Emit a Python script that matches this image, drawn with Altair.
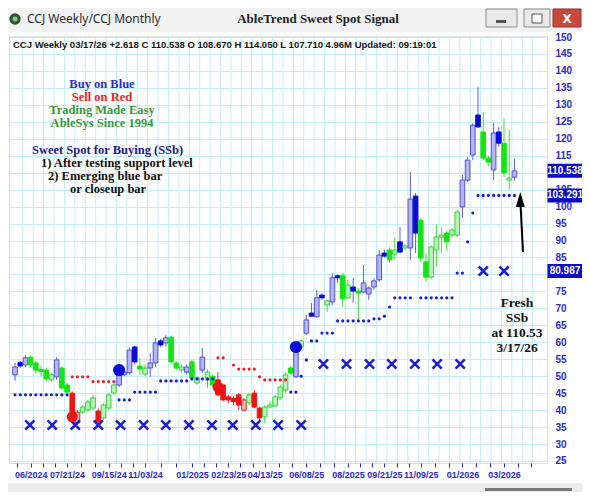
import altair as alt
import pandas as pd
import numpy as np

# ---------------- data ----------------
START = "2024-05-12"          # week index 0

opens = [50.4, 54.0, 53.3, 55.6, 53.9, 52.0, 51.8, 48.9, 49.8, 52.4,
         47.4, 45.0, 36.2, 39.4, 40.0, 40.6, 39.7, 37.7, 40.6, 45.0,
         47.4, 50.4, 51.0, 58.6, 53.0, 50.6, 52.4, 53.9, 60.4, 59.8,
         61.5, 53.9, 51.8, 51.2, 54.2, 48.0, 51.8, 48.9, 50.0, 48.9,
         47.4, 43.9, 43.5, 44.5, 40.0, 42.1, 45.0, 40.6, 38.0, 40.9,
         41.2, 43.6, 45.9, 52.4, 49.8, 58.6, 62.7, 68.6, 67.5, 73.9,
         71.0, 71.9, 79.6, 79.6, 73.1, 76.3, 75.1, 74.8, 74.2, 76.3,
         78.4, 86.3, 87.2, 86.0, 89.6, 87.8, 87.8, 103.1, 96.0, 83.7,
         79.2, 87.2, 91.0, 92.2, 91.6, 91.6, 99.9, 107.8, 115.2, 127.0,
         122.0, 114.3, 110.8, 122.0, 118.7, 107.8, 108.67]
highs = [53.9, 54.5, 56.3, 56.2, 54.5, 53.0, 52.5, 51.0, 55.5, 53.0,
         48.0, 45.5, 40.0, 41.5, 43.0, 44.5, 40.5, 42.0, 45.0, 48.0,
         52.0, 51.8, 58.5, 59.0, 55.4, 53.5, 56.8, 61.3, 61.0, 62.1,
         62.0, 54.5, 53.5, 53.5, 54.8, 50.0, 58.3, 52.0, 50.5, 51.2,
         47.8, 44.5, 44.0, 45.0, 43.5, 45.0, 45.9, 41.0, 41.5, 42.5,
         44.5, 47.5, 51.0, 53.0, 59.0, 61.0, 68.0, 71.6, 75.4, 74.5,
         72.5, 80.4, 80.0, 80.4, 78.4, 79.0, 76.0, 82.8, 76.5, 79.0,
         87.2, 87.2, 88.0, 91.0, 94.0, 89.0, 110.2, 104.0, 96.5, 86.3,
         88.5, 94.6, 94.0, 93.0, 93.7, 99.0, 109.3, 114.6, 124.6, 135.3,
         127.9, 115.0, 124.6, 123.5, 126.1, 122.6, 114.05]
lows = [48.6, 52.5, 52.7, 52.5, 50.8, 50.0, 48.5, 48.4, 48.9, 46.0,
        44.8, 37.5, 35.8, 38.8, 39.5, 40.0, 36.0, 37.0, 40.0, 44.5,
        46.8, 50.0, 50.5, 53.5, 50.4, 50.0, 49.8, 52.7, 58.5, 58.6,
        53.5, 51.8, 51.0, 50.5, 48.8, 47.5, 51.0, 46.5, 47.0, 44.0,
        42.5, 42.0, 41.5, 40.0, 39.5, 41.5, 40.5, 37.0, 36.2, 40.5,
        40.8, 43.0, 45.0, 50.5, 49.5, 58.0, 62.1, 67.5, 67.2, 72.5,
        68.9, 71.0, 77.5, 70.4, 72.8, 71.6, 66.6, 74.5, 72.5, 75.5,
        77.8, 85.0, 83.5, 84.3, 86.3, 87.2, 84.3, 86.3, 83.7, 77.8,
        78.5, 82.2, 86.3, 87.0, 90.8, 91.0, 96.6, 107.2, 113.7, 123.2,
        113.7, 112.0, 107.8, 117.6, 108.7, 104.9, 107.71]
closes = [52.7, 53.0, 55.4, 53.3, 51.8, 51.4, 49.2, 50.4, 54.8, 46.5,
          45.3, 38.0, 39.4, 40.9, 42.4, 43.6, 36.5, 41.5, 44.5, 47.4,
          51.0, 51.2, 57.7, 54.2, 52.1, 52.4, 53.9, 59.8, 59.2, 61.3,
          54.2, 52.4, 52.7, 52.7, 49.5, 49.5, 55.6, 51.2, 47.4, 44.5,
          43.0, 43.0, 42.5, 41.5, 43.0, 44.5, 40.9, 37.7, 40.9, 41.5,
          43.9, 46.8, 50.4, 50.9, 58.6, 60.4, 66.6, 67.7, 73.1, 73.1,
          72.2, 79.0, 79.0, 72.8, 76.9, 75.1, 74.5, 77.5, 76.0, 78.1,
          85.7, 85.4, 84.3, 87.2, 86.6, 88.4, 102.2, 92.2, 84.8, 79.2,
          88.1, 91.0, 91.6, 89.6, 93.1, 98.4, 107.8, 113.7, 124.0, 123.5,
          114.3, 113.1, 121.7, 118.7, 109.9, 108.4, 110.538]
trend = list("bbb" "ggggg" "b" "gg" "rr" "ggg" "r" "ggg" "bbbb" "gg" "bbbb" "ggg"
             "b" "gg" "b" "gg" "rrrrrr" "g" "rr" "gggggg" "b" "g" "bbbb" "g" "bb"
             "gg" "b" "g" "bbbbb" "gg" "b" "g" "bb" "gggggggg" "bbbb" "gg" "bb"
             "gg" "b")

N_ = None
support = ([44.5] * 11 + [N_] * 9 + [43.0] * 3 + [45.3] * 5 + [48.6] * 6 +
           [49.2] * 5 + [N_] * 14 + [45.3] * 2 + [50.0, 54.8] + [60.4] * 2 +
           [62.7] * 3 + [66.3] * 7 + [66.9] * 2 + [67.7, 70.4] + [73.1] * 4 +
           [N_] + [73.1] * 7 + [80.4] * 2 + [89.6, 98.1] + [103.291] * 8)
resist = ([N_] * 11 + [49.8] * 4 + [48.4] * 5 + [N_] * 19 + [55.4] * 2 + [N_] +
          [53.3] + [52.1] * 4 + [49.8] + [48.9] * 5 + [N_] * 44)

signal_idx = [11, 20, 39, 54]
signal_val = [38.0, 51.8, 46.8, 58.6]
signal_col = ["r", "b", "r", "b"]

month_dates = ["2024-06-01", "2024-07-01", "2024-08-01", "2024-09-01", "2024-10-01",
               "2024-11-01", "2024-12-01", "2025-01-01", "2025-02-01", "2025-03-01",
               "2025-04-01", "2025-05-01", "2025-06-01", "2025-07-01", "2025-08-01",
               "2025-09-01", "2025-10-01", "2025-11-01", "2025-12-01", "2026-01-01",
               "2026-02-01", "2026-03-01"]
month_levels = [35.6] * 13 + [53.6] * 7 + [80.987] * 2

tick_idx = [3, 10, 18, 25, 34, 41, 48, 56, 64, 71, 78, 86, 94]
tick_labels = ["06/2024", "07/21/24", "09/15/24", "11/03/24", "01/2025", "02/23/25",
               "04/13/25", "06/08/25", "08/2025", "09/21/25", "11/09/25", "01/2026",
               "03/2026"]
y_ticks = list(range(25, 151, 5))
y_hidden = [110, 80]          # covered by the value boxes in the reference

box_values = [110.538, 103.291, 80.987]
box_labels = ["110.538", "103.291", "80.987"]

header = "CCJ  Weekly 03/17/26 +2.618 C 110.538 O 108.670 H 114.050 L 107.710 4.96M Updated: 09:19:01"
legend_lines = ["Buy on Blue", "Sell on Red", "Trading Made Easy", "AbleSys Since 1994"]
ssb_lines = ["Sweet Spot for Buying (SSb)", "1) After testing support level",
             "2) Emerging blue bar", "or closeup bar"]
fresh_lines = ["Fresh", "SSb", "at 110.53", "3/17/26"]

# ---------------- frames ----------------
n = len(opens)
candles = pd.DataFrame({"i": range(n), "o": opens, "h": highs, "l": lows,
                        "c": closes, "t": trend})
candles["style"] = [t + ("_up" if c >= o else "_dn") for t, o, c in zip(trend, opens, closes)]
sup = pd.DataFrame({"i": range(n), "p": support}).dropna()
res = pd.DataFrame({"i": range(n), "p": resist}).dropna()
months = pd.DataFrame({
    "i": np.asarray((pd.to_datetime(month_dates) - pd.Timestamp(START)).days) / 7.0,
    "p": month_levels})
sig = pd.DataFrame({"i": signal_idx, "p": signal_val, "t": signal_col})
boxes = pd.DataFrame({"p": box_values, "lab": box_labels})
one = pd.DataFrame({"k": [0]})

W, H = 538, 427
GRID = "#c3eef6"
AXC = "#2a2acc"
LBL_FONT = "Liberation Sans, Arial, sans-serif"
SERIF = "Liberation Serif, Times New Roman, serif"

minor = []
for a, b in zip(tick_idx[:-1], tick_idx[1:]):
    minor += [a + (b - a) / 3.0, a + 2 * (b - a) / 3.0]
x_tick_vals = [0.4] + sorted(tick_idx + minor) + [96.6, 99.2]
label_expr = (f"indexof({tick_idx}, datum.value) >= 0 ? "
              f"{tick_labels}[indexof({tick_idx}, datum.value)] : ''")
y_label_expr = f"indexof({y_hidden}, datum.value) >= 0 ? '' : datum.label"

xs = alt.Scale(domain=[-0.2, 101.3], zero=False, nice=False)
ys = alt.Scale(domain=[24.4, 150.3], zero=False, nice=False)
xaxis = alt.Axis(values=x_tick_vals, labelExpr=label_expr, title=None, grid=False,
                 domain=False, tickColor=AXC, tickSize=4, tickWidth=1,
                 labelColor=AXC, labelFont=LBL_FONT, labelFontSize=9,
                 labelFontWeight="bold", labelPadding=3, labelOverlap=False,
                 labelFlush=False)
yaxis = alt.Axis(orient="right", values=y_ticks, labelExpr=y_label_expr, title=None,
                 grid=True, gridColor=GRID, gridWidth=1, domain=False, ticks=False,
                 labelPadding=8, labelColor=AXC, labelFont=LBL_FONT, labelFontSize=10,
                 labelFontWeight="bold", labelAlign="left", labelBaseline="middle",
                 labelOverlap=False)


def X(f):
    return alt.X(f"{f}:Q", scale=xs, axis=xaxis)


def Y(f):
    return alt.Y(f"{f}:Q", scale=ys, axis=yaxis)


def rect(x1, x2, y1, y2, fill, stroke=None):
    kw = dict(fill=fill)
    if stroke:
        kw.update(stroke=stroke, strokeWidth=1)
    return alt.Chart(one).mark_rect(**kw).encode(
        x=alt.value(x1), x2=alt.value(x2), y=alt.value(y1), y2=alt.value(y2))


def txt(s, x, y, **kw):
    return alt.Chart(one).mark_text(text=s, **kw).encode(x=alt.value(x), y=alt.value(y))


# ---------------- window chrome ----------------
chrome = [
    rect(-2, 576, -30, -4, "#f2f2f2"),
    rect(-2, 576, 447, 460, "#ececec"),
    rect(476, 563, 452, 455, "#7a7a7a"),
    rect(477, 508, -27, -9, "#e9e9e9", "#8a8a8a"),
    rect(487, 497, -16, -13, "#555555"),
    rect(515, 541, -27, -9, "#e9e9e9", "#8a8a8a"),
    rect(523, 533, -22, -13, "#ffffff", "#555555"),
    rect(544, 572, -27, -9, "#c9483b", "#8a3a30"),
    txt("X", 558, -17.5, color="white", fontSize=12, fontWeight="bold",
        font="DejaVu Sans, sans-serif", align="center", baseline="middle"),
    alt.Chart(one).mark_circle(size=130, opacity=1, color="#34523a").encode(
        x=alt.value(6), y=alt.value(-17)),
    alt.Chart(one).mark_circle(size=25, opacity=1, color="#7fd36a").encode(
        x=alt.value(6), y=alt.value(-17)),
    txt("CCJ Weekly/CCJ Monthly", 18, -17, color="#2b2b2b", fontSize=12,
        font="Noto Sans, Open Sans, sans-serif", align="left", baseline="middle"),
    txt("AbleTrend Sweet Spot Signal", 309, -17, color="#222222", fontSize=13,
        fontWeight="bold", font=SERIF, align="center", baseline="middle"),
]

# ---------------- chart layers ----------------
grid_v = alt.Chart(pd.DataFrame({"g": np.arange(1.5, 101.0, 2.0)})).mark_rule(
    color=GRID, strokeWidth=1).encode(x=X("g"), y=alt.value(0), y2=alt.value(H))

wicks = alt.Chart(candles).mark_rule(strokeWidth=1).encode(
    x=X("i"), y=Y("l"), y2="h",
    color=alt.Color("t:N", scale=alt.Scale(domain=["b", "g", "r"],
                                           range=["#5c5ce6", "#3ddc3d", "#ee2424"]),
                    legend=None))

styles = ["b_up", "b_dn", "g_up", "g_dn", "r_up", "r_dn"]
fills = ["#b6b6f4", "#0a0ad2", "#b9f5b9", "#14e614", "#f8b8b8", "#f21212"]
strokes = ["#5252dc", "#0a0ad2", "#3cd03c", "#14e614", "#e82020", "#f21212"]
bodies = alt.Chart(candles).mark_bar(size=4.6, strokeWidth=1).encode(
    x=X("i"), y=Y("o"), y2="c",
    fill=alt.Fill("style:N", scale=alt.Scale(domain=styles, range=fills), legend=None),
    stroke=alt.Stroke("style:N", scale=alt.Scale(domain=styles, range=strokes), legend=None))

sup_dots = alt.Chart(sup).mark_circle(size=10, opacity=1, color="#1c1cd6").encode(
    x=X("i"), y=Y("p"))
res_dots = alt.Chart(res).mark_circle(size=10, opacity=1, color="#e42222").encode(
    x=X("i"), y=Y("p"))
xmarks = alt.Chart(months).mark_point(
    shape="M-1,-1L1,1M-1,1L1,-1", size=85, strokeWidth=2.6, color="#1e1ecf",
    filled=False, opacity=1).encode(x=X("i"), y=Y("p"))
big_b = alt.Chart(sig[sig.t == "b"]).mark_circle(size=150, opacity=1, color="#0b0bdc").encode(
    x=X("i"), y=Y("p"))
big_r = alt.Chart(sig[sig.t == "r"]).mark_circle(size=120, opacity=1, color="#ee1414").encode(
    x=X("i"), y=Y("p"))

# ---------------- annotations ----------------
notes = [
    txt(header, 4, 9, color="#151515", fontSize=9.5, fontWeight="bold",
        font="Liberation Sans Narrow, Arial Narrow, Liberation Sans, sans-serif",
        align="left", baseline="middle"),
]
leg_cols = ["#2b2bd6", "#ee2222", "#3a9a3a", "#3a9a3a"]
for s, c, yy in zip(legend_lines, leg_cols, [47.5, 60.5, 73.5, 86.5]):
    notes.append(txt(s, 93, yy, color=c, fontSize=12.5, fontWeight="bold", font=SERIF,
                     align="center", baseline="middle"))
ssb_cols = ["#1b1b8c", "#111111", "#111111", "#111111"]
for s, c, xx, yy in zip(ssb_lines, ssb_cols, [23, 32, 39, 61], [114, 127, 140, 153]):
    notes.append(txt(s, xx, yy, color=c, fontSize=12.5, fontWeight="bold", font=SERIF,
                     align="left", baseline="middle"))
for s, yy in zip(fresh_lines, [267, 282, 297, 312]):
    notes.append(txt(s, 508, yy, color="#111111", fontSize=13.5, fontWeight="bold",
                     font=SERIF, align="center", baseline="middle"))

arrow = alt.Chart(one).mark_rule(color="black", strokeWidth=2).encode(
    x=alt.value(514), y=alt.value(216), x2=alt.value(511.5), y2=alt.value(168))
arrow_head = alt.Chart(one).mark_point(
    shape="M0,-1L0.6,1L-0.6,1Z", size=225, filled=True, color="black", opacity=1,
    strokeWidth=0).encode(x=alt.value(511.3), y=alt.value(163.5))

box_marks = alt.Chart(boxes).mark_point(
    shape="M-1,-0.4L1,-0.4L1,0.4L-1,0.4Z", size=1225, filled=True, color="#0c0cc0",
    opacity=1, strokeWidth=0).encode(x=alt.value(556), y=Y("p"))
box_text = alt.Chart(boxes).mark_text(
    color="white", fontWeight="bold", fontSize=10, font=LBL_FONT,
    align="center", baseline="middle").encode(x=alt.value(556), y=Y("p"), text="lab:N")

chart = alt.layer(
    *chrome, grid_v, wicks, bodies, sup_dots, res_dots, xmarks, big_b, big_r,
    *notes, arrow, arrow_head, box_marks, box_text
).properties(
    width=W, height=H,
    padding={"left": 1, "top": 28, "right": 35, "bottom": 29},
    autosize=alt.AutoSizeParams(type="none"),
).configure_view(
    stroke="#4a4ad4", strokeWidth=1.5
).configure(background="white")

chart.save("out.html", embed_options={"renderer": "svg", "actions": False})
